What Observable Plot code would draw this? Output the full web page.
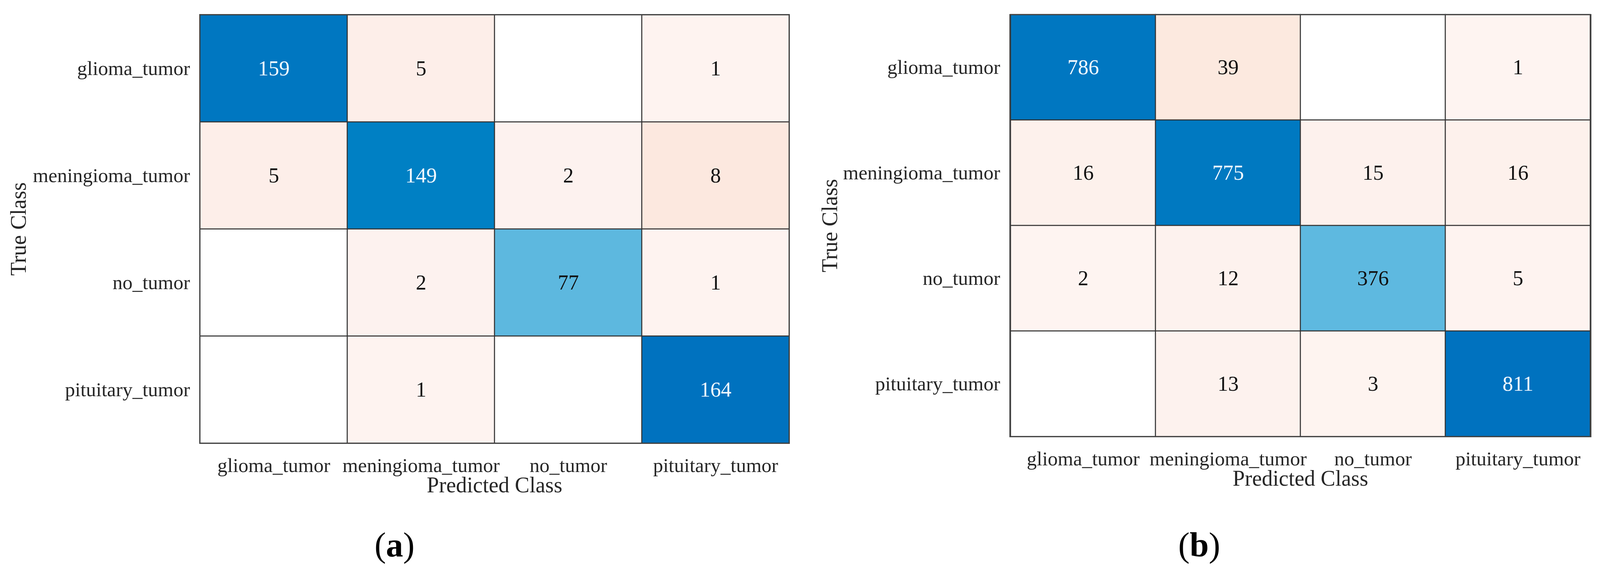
<!DOCTYPE html>
<html>
<head>
<meta charset="utf-8">
<script src="https://cdn.jsdelivr.net/npm/d3@7"></script>
<script src="https://cdn.jsdelivr.net/npm/@observablehq/plot@0.6"></script>
<style>
  html, body { margin: 0; padding: 0; background: #fff; overflow: hidden; }
  #wrap { position: relative; height: 1469px; overflow: hidden; }
  .panel { position: absolute; top: 0; }
  .cap { position: absolute; width: 400px; text-align: center; font-family: "Liberation Serif", "Times New Roman", serif;
         font-size: 88px; line-height: 88px; color: #000; }
</style>
</head>
<body>
<div id="wrap"></div>
<script>
// ---- data ----
const classes = ["glioma_tumor", "meningioma_tumor", "no_tumor", "pituitary_tumor"];
// rows = true class, columns = predicted class
const matrixA = [
  [159, 5, 0, 1],
  [5, 149, 2, 8],
  [0, 2, 77, 1],
  [0, 1, 0, 164]
];
const matrixB = [
  [786, 39, 0, 1],
  [16, 775, 15, 16],
  [2, 12, 376, 5],
  [0, 13, 3, 811]
];
const xTitle = "Predicted Class";
const yTitle = "True Class";
const captions = ["a", "b"];

// the reference is 4332 px wide; fit its horizontal layout into the actual viewport
const sx = Math.min(1, (window.innerWidth || 4332) / 4332);

function toTable(m) {
  const max = d3.max(m.flat());
  const rows = [];
  m.forEach((r, i) => r.forEach((v, j) => {
    const f = v / max;
    rows.push({trueClass: classes[i], predClass: classes[j], value: v, diag: i === j,
               s: i === j ? f : -f});
  }));
  return rows;
}

function confusion(m, opts) {
  const data = toTable(m);
  return Plot.plot({
    width: Math.round(2166 * sx),
    height: opts.marginTop + opts.gridH + opts.marginBottom,
    marginLeft: Math.round(opts.marginLeft * sx),
    marginRight: Math.round(opts.marginRight * sx),
    marginTop: opts.marginTop,
    marginBottom: opts.marginBottom,
    style: {fontFamily: "'Liberation Serif', 'Times New Roman', serif", fontSize: "51px", color: "#262626", background: "#fff"},
    x: {domain: classes, padding: 0, axis: null},
    y: {domain: classes, padding: 0, axis: null},
    color: {
      type: "linear",
      domain: [-0.05, -0.03, -0.015, -0.001, 0, 0.46, 0.91, 1],
      range: ["#FCE8DE", "#FDEEE9", "#FDF2EE", "#FEF4F1", "#FFFFFF", "#5FB9E0", "#0080C4", "#0072BF"],
      clamp: true
    },
    marks: [
      Plot.cell(data, {x: "predClass", y: "trueClass", fill: "s", stroke: "#333", strokeWidth: 2.5}),
      Plot.frame({stroke: "#444", strokeWidth: 3}),
      Plot.text(data.filter(d => d.value > 0 && d.diag && d.s > 0.6),
        {x: "predClass", y: "trueClass", text: d => String(d.value), fill: "#F4FAFF", fontSize: 54}),
      Plot.text(data.filter(d => d.value > 0 && !(d.diag && d.s > 0.6)),
        {x: "predClass", y: "trueClass", text: d => String(d.value), fill: "#111", fontSize: 54}),
      Plot.axisX({anchor: "bottom", tickSize: 0, tickPadding: 37, label: null, fill: "#262626"}),
      Plot.axisY({anchor: "left", tickSize: 0, tickPadding: 25, label: null, fill: "#262626"}),
      Plot.text([xTitle], {frameAnchor: "bottom", textAnchor: "middle", dy: 125, fill: "#262626", fontSize: 56}),
      Plot.text([yTitle], {frameAnchor: "left", textAnchor: "middle", rotate: -90,
        dx: -Math.round(opts.yTitleGap * sx), fill: "#262626", fontSize: 56})
    ]
  });
}

const wrap = document.getElementById("wrap");
wrap.style.width = Math.round(4332 * sx) + "px";
const specs = [
  {m: matrixA, left: 0, marginLeft: 540, marginRight: 30, marginTop: 37, gridH: 1097, marginBottom: 165, yTitleGap: 490, capX: 1068},
  {m: matrixB, left: 2166, marginLeft: 568, marginRight: 25, marginTop: 37, gridH: 1080, marginBottom: 165, yTitleGap: 486, capX: 3247}
];
specs.forEach((sp, k) => {
  const div = document.createElement("div");
  div.className = "panel";
  div.style.left = Math.round(sp.left * sx) + "px";
  div.appendChild(confusion(sp.m, sp));
  wrap.appendChild(div);
  const cap = document.createElement("div");
  cap.className = "cap";
  cap.style.left = Math.round(sp.capX * sx - 200) + "px";
  cap.style.top = "1351px";
  cap.innerHTML = "(<b>" + captions[k] + "</b>)";
  wrap.appendChild(cap);
});
</script>
</body>
</html>
